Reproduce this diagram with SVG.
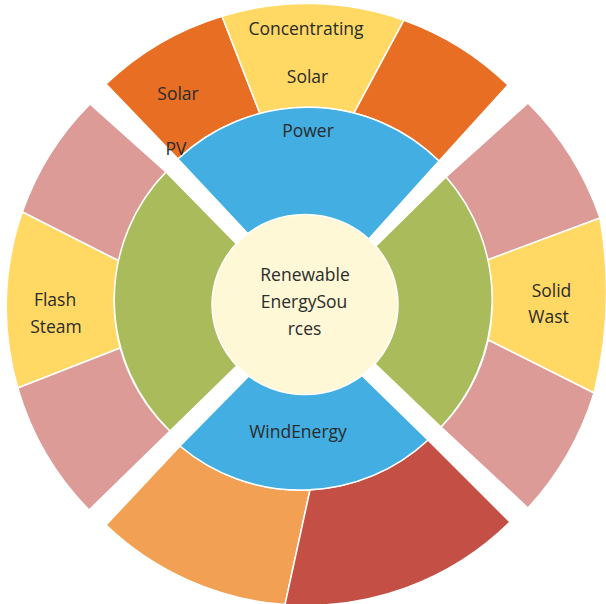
<svg xmlns="http://www.w3.org/2000/svg" width="606" height="604" viewBox="0 0 606 604">
<style>
.seg{stroke:#ffffff;stroke-width:1.5;stroke-linejoin:round}
.orange{fill:#E86E24}
.yellow{fill:#FFD964}
.pink{fill:#DC9B97}
.blue{fill:#42AEE1}
.green{fill:#A9BB5B}
.lorange{fill:#F2A154}
.red{fill:#C44F45}
.core{fill:#FEF8D6;stroke:#ffffff;stroke-width:1.5}
text{font-family:"Open Sans","Liberation Sans",sans-serif;font-size:17.5px;fill:#2b2b2b;text-anchor:middle}
</style>
<rect width="606" height="604" fill="#ffffff"/>
<g id="top-quadrant">
  <g id="solar-pv"><path class="seg orange" d="M106,84 A290,290 0 0 1 222,16.2 L260,113.7 A188,188 0 0 0 178,159 Z"/></g>
  <g id="concentrating-solar"><path class="seg yellow" d="M222,16.2 A290,290 0 0 1 404,20.2 L354,112.9 A188,188 0 0 0 260,113.7 Z"/></g>
  <g id="top-right-orange"><path class="seg orange" d="M404,20.2 A290,290 0 0 1 508,85 L439,161 A188,188 0 0 0 354,112.9 Z"/></g>
  <g id="solar-power"><path class="seg blue" d="M178,159 A188,188 0 0 1 439,161 L312,302 Z"/></g>
</g>
<g id="left-quadrant">
  <g id="left-top-pink"><path class="seg pink" d="M90,104 A289,289 0 0 0 22.3,212 L119,261 A183,183 0 0 1 166,172 Z"/></g>
  <g id="flash-steam"><path class="seg yellow" d="M22.3,212 A289,289 0 0 0 17.8,388 L120.2,348 A183,183 0 0 1 119,261 Z"/></g>
  <g id="left-bottom-pink"><path class="seg pink" d="M17.8,388 A289,289 0 0 0 89,510 L170,431 A183,183 0 0 1 120.2,348 Z"/></g>
  <g id="left-green"><path class="seg green" d="M166,172 A183,183 0 0 0 170,431 L297.7,306.3 Z"/></g>
</g>
<g id="right-quadrant">
  <g id="right-top-pink"><path class="seg pink" d="M528,103 A300,300 0 0 1 600,218 L487.3,260 A185,185 0 0 0 446,177 Z"/></g>
  <g id="solid-waste"><path class="seg yellow" d="M600,218 A420,420 0 0 1 594,393 L488.2,340 A185,185 0 0 0 487.3,260 Z"/></g>
  <g id="right-bottom-pink"><path class="seg pink" d="M594,393 A300,300 0 0 1 528,508 L441,427 A185,185 0 0 0 488.2,340 Z"/></g>
  <g id="right-green"><path class="seg green" d="M446,177 A185,185 0 0 1 441,427 L314.8,306.2 Z"/></g>
</g>
<g id="bottom-quadrant">
  <g id="bottom-orange"><path class="seg lorange" d="M106,525 A290,290 0 0 0 285,604.6 L310,490 A187,187 0 0 1 180,446 Z"/></g>
  <g id="bottom-red"><path class="seg red" d="M285,604.6 A290,290 0 0 0 510,522 L428,440 A187,187 0 0 1 310,490 Z"/></g>
  <g id="wind-energy"><path class="seg blue" d="M180,446 A187,187 0 0 0 428,440 L304.6,319.4 Z"/></g>
</g>
<g id="center">
  <ellipse class="core" cx="305" cy="304.5" rx="93" ry="90"/>
  <text x="305" y="281">Renewable</text>
  <text x="304" y="308">EnergySou</text>
  <text x="304.5" y="335">rces</text>
</g>
<g id="labels">
  <text x="306" y="35">Concentrating</text>
  <text x="307.5" y="83">Solar</text>
  <text x="178" y="100">Solar</text>
  <text x="176" y="155">PV</text>
  <text x="308" y="137">Power</text>
  <text x="55" y="306">Flash</text>
  <text x="56" y="333">Steam</text>
  <text x="551.5" y="297">Solid</text>
  <text x="548.5" y="323">Wast</text>
  <text x="298" y="438">WindEnergy</text>
</g>
<g id="connectors"></g>
</svg>
